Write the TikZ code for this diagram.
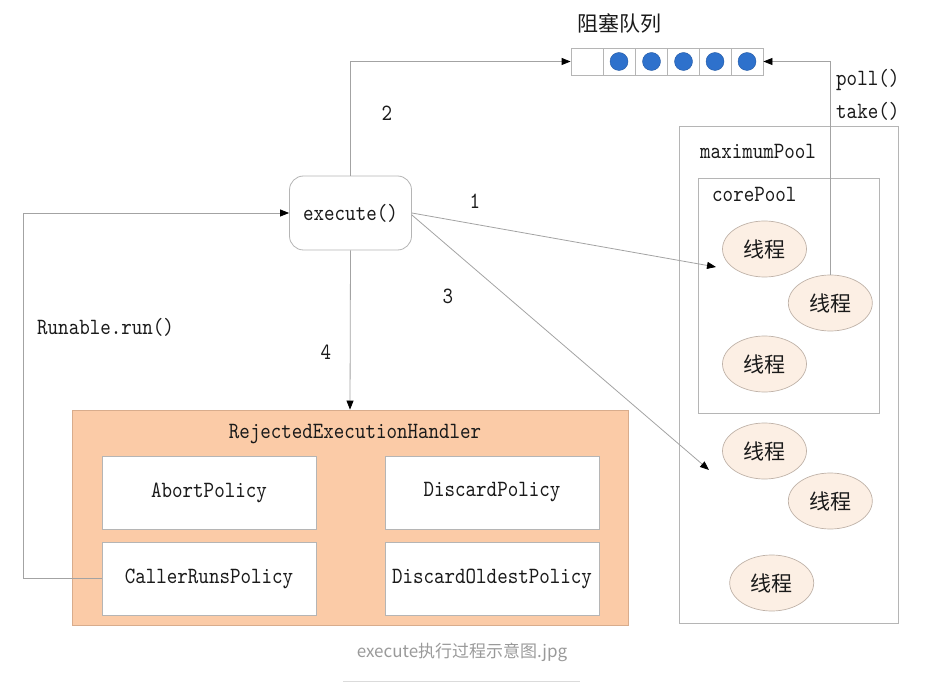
\documentclass[tikz,border=0pt]{standalone}
\usepackage{fontspec}
\newfontfamily\cjk{Noto Sans CJK SC}
\newfontfamily\monof{lmmono10-regular.otf}[FakeStretch=0.86]
\usetikzlibrary{arrows.meta,calc,shapes.geometric}
\definecolor{linegray}{HTML}{A3A3A3}
\definecolor{boxgray}{HTML}{B5B5B5}
\definecolor{rejfill}{HTML}{FBCBA7}
\definecolor{rejdraw}{HTML}{D8AC8C}
\definecolor{thfill}{HTML}{FCEFE4}
\definecolor{thdraw}{HTML}{BFB2A8}
\definecolor{qblue}{HTML}{2E71CC}
\definecolor{txt}{HTML}{1A1A1A}
\definecolor{capgray}{HTML}{9A9A9A}
\tikzset{
  mono/.style={font=\monof\fontsize{23.3}{26}\selectfont, text=txt, inner sep=0pt},
  conn/.style={draw=linegray, line width=0.8pt, -{Triangle[color=black,length=9pt,width=7pt]}},
  plain/.style={draw=linegray, line width=0.8pt},
  execbox/.style={draw=boxgray, line width=0.8pt, rounded corners=14pt, fill=white,
     minimum width=122pt, minimum height=74pt, mono},
  polbox/.style={draw=boxgray, line width=0.8pt, fill=white,
     minimum width=214pt, minimum height=73pt, mono},
  poolbox/.style={draw=boxgray, line width=0.8pt, inner sep=0pt},
  thread/.style={ellipse, draw=thdraw, line width=0.7pt, fill=thfill,
     minimum width=84pt, minimum height=56pt, inner sep=0pt,
     font=\cjk\fontsize{21}{24}\selectfont, text=txt},
  qcell/.style={draw=boxgray, line width=0.8pt, minimum width=32pt, minimum height=27pt, inner sep=0pt},
  qdot/.style={circle, fill=qblue, draw=qblue!80!black, line width=0.4pt, minimum size=18pt, inner sep=0pt},
}
\begin{document}
\begin{tikzpicture}[x=1pt,y=-1pt]
\useasboundingbox (0,0) rectangle (939,692);

% pools
\node[poolbox, minimum width=219pt, minimum height=497pt] (maxp) at (788.5,374.5) {};
\node[poolbox, minimum width=181pt, minimum height=235pt] (corep) at (788.5,295.5) {};
\node[mono, anchor=west] (maxlab) at (700,151) {maximumPool};
\node[mono, anchor=west] (corelab) at (712,194) {corePool};

% threads
\node[thread] (e1) at (764.5,249) {线程};
\node[thread] (e2) at (830.3,303) {线程};
\node[thread] (e3) at (764.5,364) {线程};
\node[thread] (e4) at (764.5,451) {线程};
\node[thread] (e5) at (830.3,501) {线程};
\node[thread] (e6) at (771.7,583) {线程};

% queue
\foreach \i/\x in {1/587,2/619,3/651.5,4/683.5,5/715,6/747}{
  \node[qcell] (q\i) at (\x,61.5) {};
}
\foreach \i in {2,...,6}{ \node[qdot] (d\i) at (q\i) {}; }
\node[font=\cjk\fontsize{21}{24}\selectfont, text=txt, inner sep=0pt] (qlab) at (619,24) {阻塞队列};

% execute
\node[execbox] (exec) at (350.5,213) {execute()};

% reject handler
\node[draw=rejdraw, fill=rejfill, line width=0.8pt, minimum width=556pt, minimum height=215pt, inner sep=0pt] (rej) at (350,517.5) {};
\node[mono] (rejlab) at (355,434) {RejectedExecutionHandler};
\node[polbox] (abort) at (209,492.5) {AbortPolicy};
\node[polbox] (disc) at (492,492.5) {DiscardPolicy};
\node[polbox] (crp) at (209,578.5) {CallerRunsPolicy};
\node[polbox] (disco) at (492,578.5) {DiscardOldestPolicy};

% connectors
\coordinate (t1) at (716,267);
\coordinate (t3) at (709,470);
\draw[conn] (exec.north) |- (q1.west);
\draw[conn] (e2.north) |- (q6.east);
\draw[conn] (exec.east) -- (t1);
\draw[conn] ($(exec.east)+(0,2)$) -- (t3);
\draw[conn] (exec.south) -- (rej.north);
\draw[conn] (crp.west) -- ++(-78,0) |- (exec.west);

% labels
\node[mono] (l2) at (387,113) {2};
\node[mono] (l1) at (475,201) {1};
\node[mono] (l3) at (448,296) {3};
\node[mono] (l4) at (326,352) {4};
\node[mono, anchor=west] (poll) at (836,80) {poll()};
\node[mono, anchor=west] (take) at (836,111) {take()};
\node[mono, anchor=west] (run) at (37,327) {Runable.run()};

% caption
\node[font=\cjk\fontsize{17}{20}\selectfont, text=capgray, inner sep=0pt] (cap) at (462,652) {execute执行过程示意图.jpg};
\draw[draw=black!14, line width=0.8pt] (343,681) -- (580,681);
\end{tikzpicture}
\end{document}
